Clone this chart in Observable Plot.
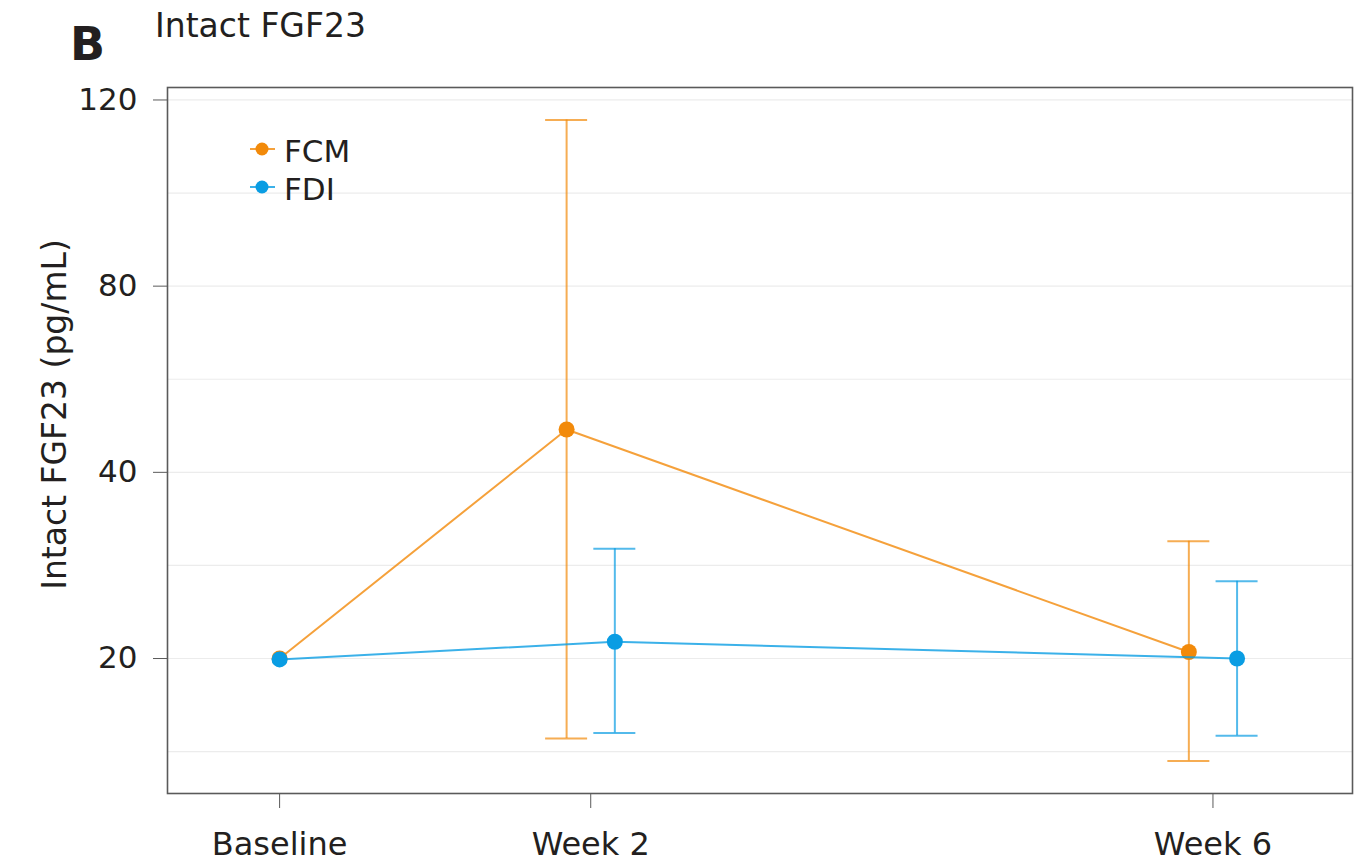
<!DOCTYPE html>
<html>
<head>
<meta charset="utf-8">
<script src="https://cdn.jsdelivr.net/npm/d3@7"></script>
<script src="https://cdn.jsdelivr.net/npm/@observablehq/plot@0.6"></script>
<style>
  body { margin: 0; background: #fff; font-family: "DejaVu Sans", sans-serif; color: #231f20; }
  #wrap { position: relative; width: 1360px; height: 865px; overflow: hidden; }
  #chart > svg { position: absolute; left: 0; top: 0; }
  .abs { position: absolute; line-height: 1; white-space: nowrap; }
  #panel { left: 70px; top: 21px; font-size: 46px; font-weight: bold; }
  #title { left: 155px; top: 9px; font-size: 33px; }
  #legend { position: absolute; left: 0; top: 0; }
</style>
</head>
<body>
<div id="wrap">
  <div id="chart"></div>
  <div class="abs" id="panel">B</div>
  <div class="abs" id="title">Intact FGF23</div>
  <svg id="legend" width="420" height="230"></svg>
</div>
<script>
// ---- data ----
const weeks = [0, 2, 6];
const weekLabels = ["Baseline", "Week 2", "Week 6"];
const seriesNames = ["FCM", "FDI"];
const seriesColors = ["#f28a0a", "#0a9de3"];
const fcmMean = [20.0, 49.2, 20.7];
const fcmLow  = [null, 11.4, 9.0];
const fcmHigh = [null, 115.7, 32.6];
const fdiMean = [19.9, 21.8, 20.0];
const fdiLow  = [null, 12.0, 11.7];
const fdiHigh = [null, 31.8, 28.3];
const yTicks = [20, 40, 80, 120];
const yGrid = [10, 20, 30, 40, 60, 80, 100, 120];

// ---- build table ----
const means = [fcmMean, fdiMean], lows = [fcmLow, fdiLow], highs = [fcmHigh, fdiHigh];
const rows = [];
seriesNames.forEach((g, si) => {
  weeks.forEach((w, i) => {
    rows.push({group: g, week: w, mean: means[si][i], low: lows[si][i], high: highs[si][i]});
  });
});
const dodge = 0.155, capHalf = 0.135;
const xpos = d => d.week + (d.week === 0 ? 0 : (d.group === "FCM" ? -dodge : dodge));

// ---- layout ----
const W = 1360, H = 865, mL = 167, mR = 8, mT = 87, mB = 72;
const plotBottom = H - mB, plotTop = mT;
// y axis: equal spacing between the labelled ticks (piecewise scale)
const yDomain = [5.5, 20, 40, 80, 120, 122.7];
const yKnots = [0, 0.725, 1.725, 2.725, 3.725, 3.792];
const yStep = (plotBottom - plotTop) / yKnots[yKnots.length - 1];
const yRange = yKnots.map(k => plotBottom - k * yStep);

const marks = [
  Plot.ruleY(yGrid, {stroke: "#ececec", strokeWidth: 1.2}),
];
seriesNames.forEach((g, si) => {
  const data = rows.filter(d => d.group === g);
  const err = data.filter(d => d.low != null);
  const c = seriesColors[si];
  marks.push(
    Plot.line(data, {x: xpos, y: "mean", stroke: c, strokeWidth: 2, strokeOpacity: 0.8}),
    Plot.ruleX(err, {x: xpos, y1: "low", y2: "high", stroke: c, strokeWidth: 2, strokeOpacity: 0.7}),
    Plot.ruleY(err, {y: "low", x1: d => xpos(d) - capHalf, x2: d => xpos(d) + capHalf, stroke: c, strokeWidth: 2, strokeOpacity: 0.7}),
    Plot.ruleY(err, {y: "high", x1: d => xpos(d) - capHalf, x2: d => xpos(d) + capHalf, stroke: c, strokeWidth: 2, strokeOpacity: 0.7}),
    Plot.dot(data, {x: xpos, y: "mean", r: 8, fill: c, stroke: "none"})
  );
});
marks.push(
  Plot.frame({stroke: "#5a5a5a", strokeWidth: 1.6}),
  Plot.axisY({ticks: yTicks, tickSize: 14, tickPadding: 16, fontSize: 31, stroke: "#5a5a5a", label: null}),
  Plot.axisX({ticks: weeks, tickFormat: d => weekLabels[weeks.indexOf(d)], tickSize: 15, tickPadding: 24, fontSize: 32, stroke: "#5a5a5a", label: null}),
  Plot.text(["Intact FGF23 (pg/mL)"], {frameAnchor: "left", textAnchor: "middle", dx: -112, dy: -26, rotate: -90, fontSize: 33, fill: "#231f20"})
);

const chart = Plot.plot({
  width: W, height: H,
  marginLeft: mL, marginRight: mR, marginTop: mT, marginBottom: mB,
  style: {fontFamily: "DejaVu Sans, sans-serif", color: "#231f20", background: "white", overflow: "visible"},
  x: {domain: [-0.7206, 6.897]},
  y: {type: "linear", domain: yDomain, range: yRange},
  marks
});
document.getElementById("chart").appendChild(chart);

// ---- legend (inside the plot, top-left) ----
const legend = d3.select("#legend");
const legRows = [149, 187];
seriesNames.forEach((g, si) => {
  const gy = legRows[si];
  legend.append("line").attr("x1", 250).attr("x2", 275).attr("y1", gy).attr("y2", gy)
    .attr("stroke", seriesColors[si]).attr("stroke-width", 2).attr("stroke-opacity", 0.8);
  legend.append("circle").attr("cx", 262).attr("cy", gy).attr("r", 6.5).attr("fill", seriesColors[si]);
  legend.append("text").attr("x", 284).attr("y", gy + 12.5)
    .attr("font-family", "DejaVu Sans, sans-serif").attr("font-size", 31).attr("fill", "#231f20").text(g);
});
</script>
</body>
</html>
